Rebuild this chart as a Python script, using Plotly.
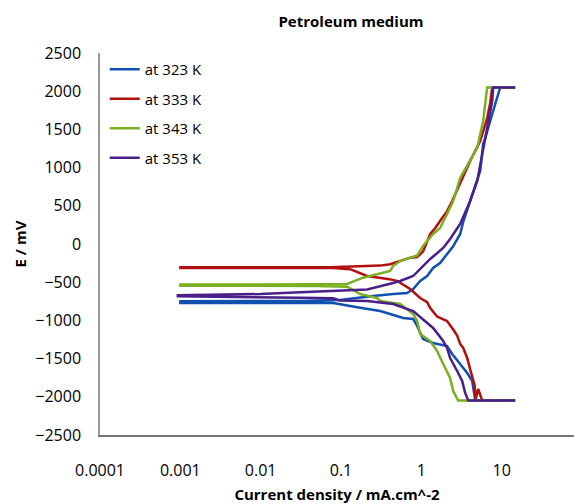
import plotly.graph_objects as go

# Current density (mA/cm^2) and potential (mV) for each temperature
blue_i = [14.7, 4.68, 4.30, 3.72, 3.04, 2.42, 2.09, 1.40, 1.05, 0.887, 0.791, 0.593, 0.409, 0.307, 0.173, 0.080, 0.031, 0.001,
          0.001, 0.031, 0.097, 0.173, 0.251, 0.445, 0.665, 0.791, 0.966, 1.18, 1.40, 1.71, 2.09, 2.49, 3.04, 3.32, 4.05,
          4.68, 5.40, 5.88, 6.30, 7.19, 8.79, 9.58, 14.7]
blue_E = [-2050, -2050, -1793, -1688, -1571, -1440, -1335, -1296, -1243, -1073, -982, -969, -916, -877, -834, -772, -772, -772,
          -750, -746, -733, -707, -681, -654, -641, -589, -484, -419, -314, -249, -130, -30, 131, 290, 563,
          760, 955, 1309, 1400, 1610, 1911, 2050, 2050]

red_i = [14.7, 5.72, 5.10, 4.75, 4.60, 4.42, 4.05, 3.72, 3.32, 3.04, 2.79, 2.49, 2.09, 1.57, 1.29, 1.18, 0.966, 0.726, 0.50, 0.40,
         0.211, 0.13, 0.08, 0.001, 0.001, 0.073, 0.307, 0.409, 0.545, 0.726, 0.887, 1.05, 1.29, 1.40, 1.49, 1.71, 2.09, 2.42,
         3.22, 4.05, 5.40, 6.60, 7.20, 7.62, 14.7]
red_E = [-2050, -2050, -1898, -2030, -1850, -1793, -1640, -1492, -1361, -1309, -1200, -1120, -1008, -950, -838, -760, -707, -589,
         -484, -460, -419, -330, -314, -314, -305, -305, -283, -265, -223, -179, -170, -100, 131, 170, 209, 300, 430, 563,
         864, 1086, 1348, 1649, 1850, 2050, 2050]

green_i = [14.7, 2.87, 2.49, 2.28, 1.87, 1.57, 1.29, 0.966, 0.887, 0.791, 0.545, 0.409, 0.307, 0.282, 0.173, 0.119, 0.05, 0.001,
           0.001, 0.05, 0.119, 0.188, 0.28, 0.409, 0.445, 0.545, 0.887, 1.05, 1.40, 1.71, 2.09, 2.49, 3.04, 4.05, 4.96, 5.88,
           6.40, 6.60, 14.7]
green_E = [-2050, -2050, -1924, -1754, -1571, -1400, -1270, -1178, -1008, -916, -785, -770, -746, -707, -654, -560, -550, -545,
           -530, -528, -524, -441, -400, -353, -288, -223, -150, -26, 131, 209, 393, 563, 864, 1086, 1257, 1610,
           1911, 2050, 2050]

purple_i = [14.7, 3.83, 3.51, 3.22, 2.79, 2.28, 2.09, 1.87, 1.40, 1.05, 0.791, 0.445, 0.211, 0.097, 0.08, 0.031, 0.00093,
            0.00093, 0.01, 0.031, 0.211, 0.445, 0.545, 0.791, 1.29, 1.87, 2.28, 3.04, 4.05, 4.96, 5.72, 6.60, 7.62, 7.84, 14.7]
purple_E = [-2050, -2050, -1950, -1793, -1662, -1492, -1361, -1270, -1099, -982, -877, -785, -746, -740, -710, -705, -685,
            -672, -655, -630, -595, -510, -484, -419, -196, -52, 65, 262, 563, 825, 1178, 1479, 1872, 2050, 2050]

series_names = ["at 323 K", "at 333 K", "at 343 K", "at 353 K"]
series_colors = ["#1050B0", "#B40F0F", "#7AAF22", "#4A1F8A"]

x_tickvals = [0.0001, 0.001, 0.01, 0.1, 1, 10]
x_ticktext = ["0.0001", "0.001", "0.01", "0.1", "1", "10"]
y_tickvals = [-2500, -2000, -1500, -1000, -500, 0, 500, 1000, 1500, 2000, 2500]

FONT = "Open Sans"

fig = go.Figure()
for name, color, xs, ys in zip(series_names, series_colors,
                               [blue_i, red_i, green_i, purple_i],
                               [blue_E, red_E, green_E, purple_E]):
    fig.add_trace(go.Scatter(x=xs, y=ys, mode="lines", name=name,
                             line=dict(color=color, width=2.5), legendgroup=name))

fig.update_layout(
    width=574, height=504,
    margin=dict(l=100, r=0, t=53, b=69),
    paper_bgcolor="white", plot_bgcolor="white",
    font=dict(family=FONT, size=16, color="#000000"),
    title=dict(text="<b>Petroleum medium</b>", x=351/574, xanchor="center", y=1 - 22/504, yanchor="middle",
               font=dict(family=FONT, size=15)),
    legend=dict(x=0.01, y=1.0, xanchor="left", yanchor="top", bgcolor="rgba(0,0,0,0)",
                font=dict(family=FONT, size=15), tracegroupgap=7, itemwidth=30),
    showlegend=True,
)
fig.update_xaxes(type="log", range=[-4, 1.9], tickvals=x_tickvals, ticktext=x_ticktext,
                 showgrid=False, zeroline=False, showline=True, linecolor="#777777", linewidth=1.5,
                 ticks="", ticklabelstandoff=20,
                 title=dict(text="<b>Current density / mA.cm^-2</b>", font=dict(family=FONT, size=15), standoff=11))
fig.update_yaxes(range=[-2500, 2500], tickvals=y_tickvals, showgrid=False, zeroline=False,
                 showline=True, linecolor="#999999", linewidth=1.5, ticks="", ticklabelstandoff=14,
                 title=dict(text="<b>E / mV</b>", font=dict(family=FONT, size=15), standoff=5))

fig.write_html("out.html", post_script="document.body.style.margin='0';",
               config={"displayModeBar": False})
